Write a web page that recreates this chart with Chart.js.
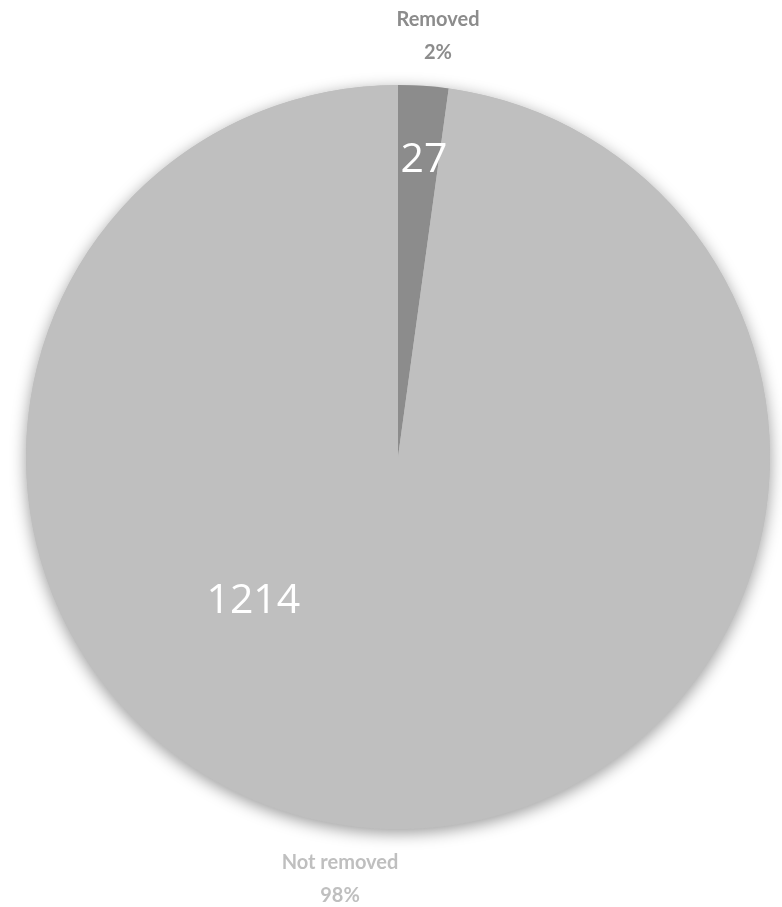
<!DOCTYPE html>
<html>
<head>
<meta charset="utf-8">
<script src="https://cdn.jsdelivr.net/npm/chart.js@4"></script>
<style>
  html, body { margin: 0; padding: 0; background: #fff; }
  #wrap { width: 782px; height: 907px; }
</style>
</head>
<body>
<div id="wrap"><canvas id="pie" width="782" height="907"></canvas></div>
<script>
// data
const categories = ['Removed', 'Not removed'];
const counts = [27, 1214];
const sliceColors = ['#8c8c8c', '#bfbfbf'];
const outerLabelColors = ['#8c8c8c', '#bfbfbf'];

const total = counts.reduce((a, b) => a + b, 0);

// soft shadow under the whole pie
const shadowPlugin = {
    id: 'pieShadow',
    beforeDatasetsDraw(chart) {
        const arc = chart.getDatasetMeta(0).data[0];
        const ctx = chart.ctx;
        ctx.save();
        ctx.shadowColor = 'rgba(0,0,0,0.4)';
        ctx.shadowBlur = 16;
        ctx.shadowOffsetY = 4;
        ctx.fillStyle = '#bfbfbf';
        ctx.beginPath();
        ctx.arc(arc.x, arc.y, arc.outerRadius, 0, Math.PI * 2);
        ctx.fill();
        ctx.restore();
    }
};

// value labels inside the slices, category/percent labels outside
const labelPlugin = {
    id: 'pieLabels',
    afterDatasetsDraw(chart) {
        const ctx = chart.ctx;
        const arcs = chart.getDatasetMeta(0).data;
        // inner label polar placement (fraction of radius, angle in degrees)
        const inner = [{ r: 0.80, a: -85 }, { r: 0.55, a: 135 }];
        ctx.save();
        ctx.textAlign = 'center';
        ctx.textBaseline = 'middle';
        arcs.forEach((arc, i) => {
            const p = inner[i];
            const rad = p.a * Math.PI / 180;
            ctx.fillStyle = '#ffffff';
            ctx.font = '41px "Open Sans", sans-serif';
            ctx.fillText(String(counts[i]),
                arc.x + Math.cos(rad) * arc.outerRadius * p.r,
                arc.y + Math.sin(rad) * arc.outerRadius * p.r);
        });

        const c = arcs[0];
        const pct = counts.map(v => Math.round(v / total * 100) + '%');
        ctx.font = 'bold 20px Lato, sans-serif';
        // Removed (top)
        ctx.fillStyle = outerLabelColors[0];
        ctx.fillText(categories[0], c.x + 40, c.y - c.outerRadius - 65);
        ctx.fillText(pct[0], c.x + 40, c.y - c.outerRadius - 32);
        // Not removed (bottom)
        ctx.fillStyle = outerLabelColors[1];
        ctx.fillText(categories[1], c.x - 58, c.y + c.outerRadius + 34);
        ctx.fillText(pct[1], c.x - 58, c.y + c.outerRadius + 67);
        ctx.restore();
    }
};

new Chart(document.getElementById('pie'), {
    type: 'pie',
    data: {
        labels: categories,
        datasets: [{
            data: counts,
            backgroundColor: sliceColors,
            borderWidth: 0
        }]
    },
    options: {
        responsive: false,
        animation: false,
        layout: { padding: { left: 26, right: 12, top: 85, bottom: 78 } },
        plugins: {
            legend: { display: false },
            tooltip: { enabled: false }
        }
    },
    plugins: [shadowPlugin, labelPlugin]
});
</script>
</body>
</html>
